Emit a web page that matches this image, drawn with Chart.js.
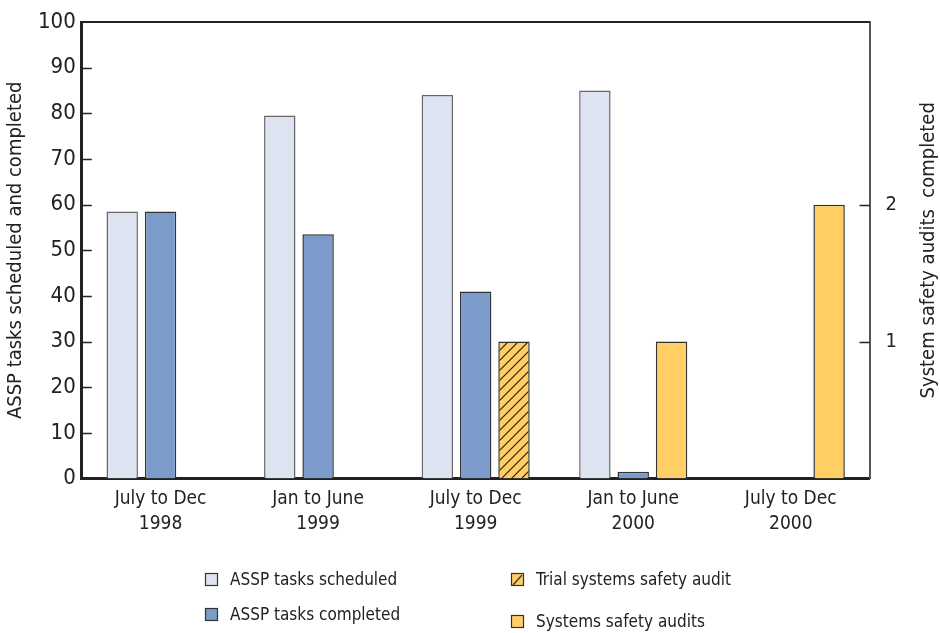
<!DOCTYPE html>
<html>
<head>
<meta charset="utf-8">
<script src="https://cdn.jsdelivr.net/npm/chart.js@4/dist/chart.umd.min.js"></script>
<style>
  html, body { margin: 0; padding: 0; background: #fff; }
  #wrap { width: 940px; height: 633px; }
</style>
</head>
<body>
<div id="wrap"><canvas id="auditChart" width="940" height="633"></canvas></div>
<script>
const periods = [['July to Dec', '1998'], ['Jan to June', '1999'], ['July to Dec', '1999'], ['Jan to June', '2000'], ['July to Dec', '2000']];
const tasksScheduled = [58.5, 79.5, 84, 85, null];
const tasksCompleted = [58.5, 53.5, 41, 1.5, null];
const trialAudit = [null, null, 1, null, null];
const safetyAudits = [null, null, null, 1, 2];
const leftTicks = [0, 10, 20, 30, 40, 50, 60, 70, 80, 90, 100];
const rightTicks = [1, 2];

const FONT = "'Liberation Sans Narrow', 'DejaVu Sans Condensed', 'Liberation Sans', sans-serif";
const LIGHT = '#dde3f1';
const BLUE = '#7b9bcb';
const YELLOW = '#ffcf66';

function hatch() {
  const c = document.createElement('canvas');
  c.width = 10; c.height = 10;
  const g = c.getContext('2d');
  g.fillStyle = YELLOW;
  g.fillRect(0, 0, 10, 10);
  g.strokeStyle = '#222';
  g.lineWidth = 1.2;
  g.beginPath();
  g.moveTo(0, 10); g.lineTo(10, 0);
  g.moveTo(-5, 5); g.lineTo(5, -5);
  g.moveTo(5, 15); g.lineTo(15, 5);
  g.stroke();
  return g.createPattern(c, 'repeat');
}
const hatchFill = hatch();

// inward tick marks, top frame line, right axis title and the two-column legend
const extras = {
  id: 'extras',
  afterDraw(chart) {
    const { ctx, chartArea, scales } = chart;
    ctx.save();
    ctx.strokeStyle = '#222';
    ctx.lineWidth = 2;
    ctx.beginPath();
    ctx.moveTo(chartArea.left - 1, chartArea.top);
    ctx.lineTo(chartArea.right, chartArea.top);
    ctx.stroke();
    ctx.lineWidth = 1.5;
    ctx.beginPath();
    leftTicks.forEach(v => {
      if (v === 0 || v === 100) return;
      const y = Math.round(scales.y.getPixelForValue(v)) + 0.5;
      ctx.moveTo(chartArea.left, y);
      ctx.lineTo(chartArea.left + 10, y);
    });
    rightTicks.forEach(v => {
      const y = Math.round(scales.y1.getPixelForValue(v)) + 0.5;
      ctx.moveTo(chartArea.right, y);
      ctx.lineTo(chartArea.right - 10, y);
    });
    ctx.stroke();

    // right title reads bottom to top, like the left one
    ctx.save();
    ctx.translate(929, (chartArea.top + chartArea.bottom) / 2);
    ctx.rotate(-Math.PI / 2);
    ctx.font = '20px ' + FONT;
    ctx.fillStyle = '#222';
    ctx.textAlign = 'center';
    ctx.textBaseline = 'middle';
    ctx.fillText('System safety audits  completed', 0, 0);
    ctx.restore();

    const items = [
      { label: 'ASSP tasks scheduled', fill: LIGHT, x: 205, y: 580 },
      { label: 'ASSP tasks completed', fill: BLUE, x: 205, y: 615 },
      { label: 'Trial systems safety audit', fill: 'hatch', x: 511, y: 580 },
      { label: 'Systems safety audits', fill: YELLOW, x: 511, y: 622 },
    ];
    ctx.font = '17px ' + FONT;
    ctx.textBaseline = 'middle';
    items.forEach(it => {
      ctx.fillStyle = it.fill === 'hatch' ? YELLOW : it.fill;
      ctx.fillRect(it.x, it.y - 7, 13, 13);
      ctx.strokeStyle = '#333';
      ctx.lineWidth = 1.2;
      ctx.strokeRect(it.x + 0.5, it.y - 6.5, 12, 12);
      if (it.fill === 'hatch') {
        ctx.beginPath();
        ctx.moveTo(it.x + 2, it.y + 5);
        ctx.lineTo(it.x + 11, it.y - 5);
        ctx.stroke();
      }
      ctx.fillStyle = '#222';
      ctx.fillText(it.label, it.x + 25, it.y + 1);
    });
    ctx.restore();
  }
};

const ctx = document.getElementById('auditChart').getContext('2d');
const auditChart = new Chart(ctx, {
  type: 'bar',
  data: {
    labels: periods,
    datasets: [
      {
        label: 'ASSP tasks scheduled',
        data: tasksScheduled,
        backgroundColor: LIGHT,
        borderColor: '#666',
        borderWidth: 1.5,
        stack: 'a',
        yAxisID: 'y',
      },
      {
        label: 'ASSP tasks completed',
        data: tasksCompleted,
        backgroundColor: BLUE,
        borderColor: '#333',
        borderWidth: 1.5,
        stack: 'b',
        yAxisID: 'y',
      },
      {
        label: 'Trial systems safety audit',
        data: trialAudit,
        backgroundColor: hatchFill,
        borderColor: '#333',
        borderWidth: 1.5,
        stack: 'c',
        yAxisID: 'y1',
      },
      {
        label: 'Systems safety audits',
        data: safetyAudits,
        backgroundColor: YELLOW,
        borderColor: '#333',
        borderWidth: 1.5,
        stack: 'c',
        yAxisID: 'y1',
      },
    ],
  },
  options: {
    responsive: false,
    animation: false,
    categoryPercentage: 0.73,
    barPercentage: 0.82,
    layout: {
      padding: { top: 22, right: 39, bottom: 89, left: 4 },
    },
    scales: {
      x: {
        stacked: true,
        grid: { display: false, drawTicks: false },
        border: { display: true, color: '#222', width: 3 },
        ticks: {
          color: '#222',
          padding: 8,
          font: { family: FONT, size: 19, lineHeight: 1.3 },
        },
      },
      y: {
        position: 'left',
        stacked: false,
        min: 0,
        max: 100,
        grid: { display: false, drawTicks: false },
        border: { display: true, color: '#222', width: 3 },
        ticks: {
          stepSize: 10,
          color: '#222',
          padding: 6,
          font: { family: FONT, size: 22 },
        },
        title: {
          display: true,
          text: 'ASSP tasks scheduled and completed',
          color: '#222',
          padding: { top: 0, bottom: 4 },
          font: { family: FONT, size: 20 },
        },
      },
      y1: {
        position: 'right',
        stacked: false,
        min: 0,
        max: 100 / 30,
        afterBuildTicks: (axis) => {
          axis.ticks = rightTicks.map(v => ({ value: v }));
        },
        grid: { display: false, drawTicks: true, tickLength: 12, tickColor: 'rgba(0,0,0,0)' },
        border: { display: true, color: '#555', width: 2 },
        ticks: {
          color: '#222',
          padding: 4,
          font: { family: FONT, size: 20 },
        },
      },
    },
    plugins: {
      legend: { display: false },
      tooltip: { enabled: false },
    },
  },
  plugins: [extras],
});
</script>
</body>
</html>
